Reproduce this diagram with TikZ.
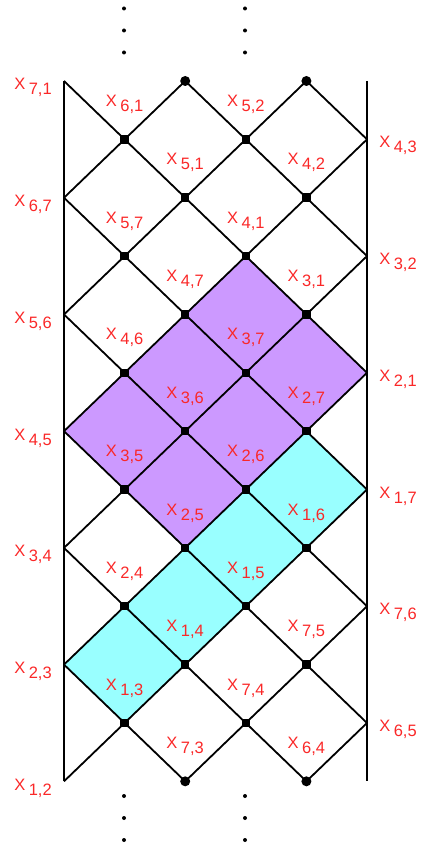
\documentclass[tikz,border=0pt]{standalone}
\usepackage{fontspec}
\setmainfont{Liberation Sans}
\definecolor{lblred}{RGB}{250,40,40}
\definecolor{purp}{RGB}{204,153,255}
\definecolor{cyn}{RGB}{153,255,255}
\newcommand{\xlab}[1]{X\hspace{3.5pt}\raisebox{-5pt}{#1}}
\begin{document}
\begin{tikzpicture}[x=1pt,y=-1pt,
  edge/.style={line width=1.8pt, black},
  rail/.style={line width=2pt, black},
  sqmark/.style={rectangle, fill=black, minimum size=8.5pt, inner sep=0pt},
  dotmark/.style={circle, fill=black, minimum size=10pt, inner sep=0pt},
  tinydot/.style={circle, fill=black, minimum size=4pt, inner sep=0pt},
  lbl/.style={text=lblred, font=\fontsize{16.5}{16.5}\selectfont, inner sep=0pt, anchor=base},
  purplef/.style={fill=purp},
  cyanf/.style={fill=cyn}]
\useasboundingbox (0,0) rectangle (420,848);
% lattice coordinates
\foreach \i in {0,...,5} {
  \foreach \k in {0,...,12} {
    \coordinate (v-\i-\k) at ({64+60.6*\i},{81+58.36*\k});
  }
}
% coloured faces
\foreach \i/\k/\st in {3/4/purplef,2/5/purplef,4/5/purplef,1/6/purplef,3/6/purplef,2/7/purplef,
                       4/7/cyanf,3/8/cyanf,2/9/cyanf,1/10/cyanf} {
  \pgfmathtruncatemacro{\ia}{\i-1}
  \pgfmathtruncatemacro{\ib}{\i+1}
  \pgfmathtruncatemacro{\ka}{\k-1}
  \pgfmathtruncatemacro{\kb}{\k+1}
  \fill[\st] (v-\i-\ka) -- (v-\ib-\k) -- (v-\i-\kb) -- (v-\ia-\k) -- cycle;
}
% diagonal edges
\foreach \k in {0,...,11} {
  \foreach \i in {0,...,5} {
    \pgfmathtruncatemacro{\pp}{mod(\i+\k,2)}
    \pgfmathtruncatemacro{\kn}{\k+1}
    \pgfmathtruncatemacro{\ir}{\i+1}
    \pgfmathtruncatemacro{\il}{\i-1}
    \ifnum\pp=0
      \ifnum\i<5 \draw[edge] (v-\i-\k) -- (v-\ir-\kn); \fi
      \ifnum\i>0 \draw[edge] (v-\i-\k) -- (v-\il-\kn); \fi
    \fi
  }
}
% side rails
\draw[rail] (v-0-0) -- (v-0-12);
\draw[rail] (v-5-0) -- (v-5-12);
% square marks at interior vertices
\foreach \k in {1,...,11} {
  \foreach \i in {1,...,4} {
    \pgfmathtruncatemacro{\pp}{mod(\i+\k,2)}
    \ifnum\pp=0 \node[sqmark] (m-\i-\k) at (v-\i-\k) {}; \fi
  }
}
% round end dots
\node[dotmark] (t-2) at (v-2-0) {};
\node[dotmark] (t-4) at (v-4-0) {};
\node[dotmark] (b-2) at (v-2-12) {};
\node[dotmark] (b-4) at (v-4-12) {};
% ellipsis dots
\foreach \x in {124,245} {
  \foreach \y in {8.5,30.5,52.5,796,818,840} {
    \node[tinydot] at (\x,\y) {};
  }
}
% interior labels
\foreach \i/\k/\t in {1/0/{6,1},3/0/{5,2},2/1/{5,1},4/1/{4,2},1/2/{5,7},3/2/{4,1},
  2/3/{4,7},4/3/{3,1},1/4/{4,6},3/4/{3,7},2/5/{3,6},4/5/{2,7},1/6/{3,5},3/6/{2,6},
  2/7/{2,5},4/7/{1,6},1/8/{2,4},3/8/{1,5},2/9/{1,4},4/9/{7,5},1/10/{1,3},3/10/{7,4},
  2/11/{7,3},4/11/{6,4}} {
  \node[lbl] (l-\i-\k) at ([yshift=-25.5pt]v-\i-\k) {\xlab{\t}};
}
% left labels
\foreach \k/\t in {0/{7,1},2/{6,7},4/{5,6},6/{4,5},8/{3,4},10/{2,3},12/{1,2}} {
  \node[lbl] (ll-\k) at ([xshift=-31pt,yshift=-9pt]v-0-\k) {\xlab{\t}};
}
% right labels
\foreach \k/\t in {1/{4,3},3/{3,2},5/{2,1},7/{1,7},9/{7,6},11/{6,5}} {
  \node[lbl] (rl-\k) at ([xshift=31pt,yshift=-8.5pt]v-5-\k) {\xlab{\t}};
}
\end{tikzpicture}
\end{document}
